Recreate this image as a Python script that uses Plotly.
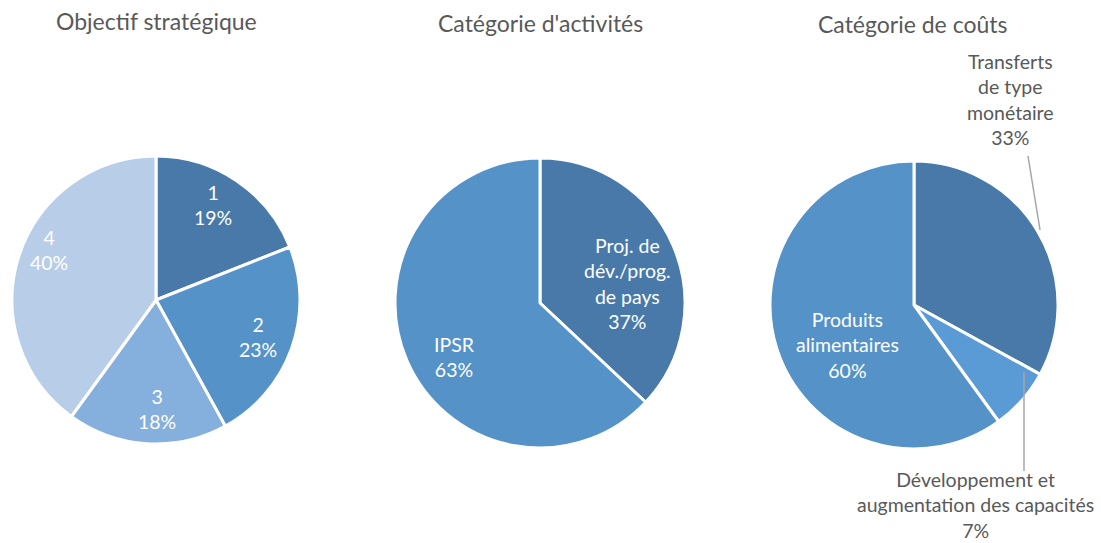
import math
import plotly.graph_objects as go

W, H = 1101, 543

# ---- data ----
obj_labels = ["1", "2", "3", "4"]
obj_values = [19, 23, 18, 40]

act_labels = ["Proj. de<br>dév./prog.<br>de pays", "IPSR"]
act_values = [37, 63]

cost_labels = ["Transferts<br>de type<br>monétaire", "Développement et<br>augmentation des capacités", "Produits<br>alimentaires"]
cost_values = [33, 7, 60]

titles = ["Objectif stratégique", "Catégorie d'activités", "Catégorie de coûts"]

# ---- style / layout ----
FONT = "Lato, 'Open Sans', sans-serif"
TXT = "#595959"
LBL = 19.5
obj_colors = ["#4879a9", "#5592c8", "#85afdc", "#b8cde8"]
act_colors = ["#4879a9", "#5592c8"]
cost_colors = ["#4879a9", "#5b9bd5", "#5592c8"]

# pie geometry in pixels (centre x, centre y, radius)
geo = [(156, 300, 144), (540, 303, 145), (914, 305, 144)]
# inside-label placement: (radial fraction, angle shift in degrees) per slice; None = outside label
obj_lp = [(0.77, -3), (0.75, 0), (0.76, -4), (0.82, 7)]
act_lp = [(0.62, 11), (0.70, -9)]
cost_lp = [None, None, (0.54, -13)]


def dom(cx, cy, r):
    return dict(x=[(cx - r) / W, (cx + r) / W], y=[1 - (cy + r) / H, 1 - (cy - r) / H])


fig = go.Figure()
ann = []


def add_pie(labels, values, colors, g, lps):
    cx, cy, r = g
    fig.add_trace(go.Pie(
        labels=labels, values=values, sort=False, direction="clockwise", rotation=0,
        marker=dict(colors=colors, line=dict(color="white", width=3)),
        textinfo="none", domain=dom(cx, cy, r), showlegend=False,
        hovertemplate="%{label}<br>%{value}%<extra></extra>",
    ))
    total = sum(values)
    cum = 0
    for lab, v, lp in zip(labels, values, lps):
        mid = (cum + v / 2) / total * 360
        cum += v
        if lp is None:
            continue
        f, da = lp
        a = math.radians(mid + da)
        x = cx + f * r * math.sin(a)
        y = cy - f * r * math.cos(a)
        ann.append(dict(x=x / W, y=1 - y / H, xref="paper", yref="paper", showarrow=False,
                        xanchor="center", yanchor="middle", align="center",
                        text=f"{lab}<br>{v}%", font=dict(family=FONT, size=LBL, color="white")))


add_pie(obj_labels, obj_values, obj_colors, geo[0], obj_lp)
add_pie(act_labels, act_values, act_colors, geo[1], act_lp)
add_pie(cost_labels, cost_values, cost_colors, geo[2], cost_lp)

# outside labels for the cost pie
ann.append(dict(x=1010 / W, y=1 - 100 / H, xref="paper", yref="paper", showarrow=False,
                xanchor="center", yanchor="middle",
                text=f"{cost_labels[0]}<br>{cost_values[0]}%", align="center",
                font=dict(family=FONT, size=LBL, color=TXT)))
ann.append(dict(x=975 / W, y=1 - 505 / H, xref="paper", yref="paper", showarrow=False,
                xanchor="center", yanchor="middle",
                text=f"{cost_labels[1]}<br>{cost_values[1]}%", align="center",
                font=dict(family=FONT, size=LBL, color=TXT)))
for t, cx, cy in zip(titles, [156, 540, 913], [21, 23, 24]):
    ann.append(dict(x=cx / W, y=1 - cy / H, xref="paper", yref="paper", showarrow=False,
                    xanchor="center", yanchor="middle",
                    text=t, font=dict(family=FONT, size=23, color=TXT)))

shapes = [
    dict(type="line", xref="paper", yref="paper", x0=1028 / W, y0=1 - 156 / H, x1=1040 / W, y1=1 - 230 / H,
         line=dict(color="#a6a6a6", width=1.5)),
    dict(type="line", xref="paper", yref="paper", x0=1024 / W, y0=1 - 372 / H, x1=1024 / W, y1=1 - 471 / H,
         line=dict(color="#a6a6a6", width=1.5)),
]

fig.update_layout(
    width=W, height=H, margin=dict(l=0, r=0, t=0, b=0),
    paper_bgcolor="white", plot_bgcolor="white",
    annotations=ann, shapes=shapes,
)

fig.write_html("out.html", config={"displayModeBar": False},
               post_script="document.body.style.margin='0';document.body.style.overflow='hidden';")
